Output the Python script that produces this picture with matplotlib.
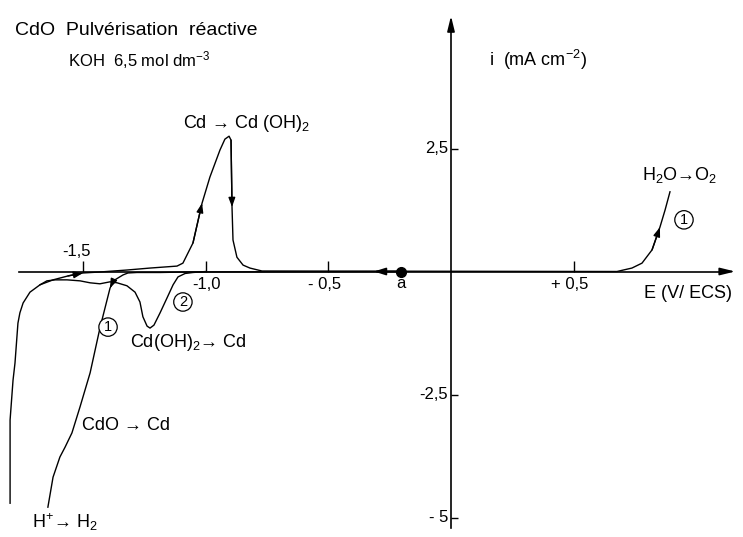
import matplotlib
matplotlib.use("Agg")
import matplotlib.pyplot as plt
import numpy as np

plt.rcParams['font.family'] = ['Liberation Sans', 'DejaVu Sans']
plt.rcParams['mathtext.fontset'] = 'custom'
plt.rcParams['mathtext.rm'] = 'Liberation Sans'
plt.rcParams['mathtext.default'] = 'regular'

# ---- data (E in V/ECS, i in mA cm-2) ----
# first cathodic sweep (1) from rest potential a : CdO -> Cd then H2
E_sweep1 = [-0.204, -1.075, -1.185, -1.279, -1.316, -1.336, -1.356, -1.369, -1.381, -1.389,
            -1.430, -1.470, -1.511, -1.544, -1.572, -1.593, -1.621, -1.642]
i_sweep1 = [0.0, -0.01, -0.02, -0.02, -0.03, -0.07, -0.13, -0.17, -0.25, -0.34,
            -1.15, -2.06, -2.75, -3.28, -3.57, -3.77, -4.18, -4.79]

# anodic sweep : Cd -> Cd(OH)2 peak, then O2 evolution
E_anodic = [-1.796, -1.796, -1.784, -1.776, -1.764, -1.756, -1.743, -1.715, -1.674, -1.621,
            -1.560, -1.499, -1.430, -1.320, -1.226, -1.116, -1.092, -1.051, -1.014, -0.982,
            -0.941, -0.921, -0.904, -0.896, -0.892, -0.888, -0.872, -0.847, -0.819, -0.770,
            0.676, 0.737, 0.778, 0.819, 0.851, 0.872, 0.892]
i_anodic = [-4.71, -3.02, -2.21, -1.86, -1.05, -0.84, -0.64, -0.42, -0.27, -0.17,
            -0.09, -0.03, -0.01, 0.03, 0.07, 0.11, 0.17, 0.58, 1.39, 1.92,
            2.47, 2.69, 2.75, 2.67, 1.31, 0.64, 0.29, 0.13, 0.07, 0.01,
            0.0, 0.07, 0.17, 0.44, 0.90, 1.25, 1.62]

# second cathodic sweep (2) : Cd(OH)2 -> Cd
E_sweep2 = [-0.998, -1.051, -1.083, -1.112, -1.132, -1.157, -1.185, -1.210, -1.226, -1.238,
            -1.255, -1.267, -1.287, -1.320, -1.360, -1.389, -1.430, -1.470, -1.511, -1.564,
            -1.613, -1.646, -1.674]
i_sweep2 = [0.0, -0.02, -0.04, -0.11, -0.27, -0.54, -0.84, -1.09, -1.15, -1.11,
            -0.92, -0.62, -0.42, -0.29, -0.23, -0.21, -0.25, -0.23, -0.19, -0.17,
            -0.17, -0.19, -0.27]

E_rest = -0.204  # point a

x_ticks = [-1.5, -1.0, -0.5, 0.5]
x_labels = ["-1,5", "-1,0", "- 0,5", "+ 0,5"]
y_ticks = [2.5, -2.5, -5.0]
y_labels = ["2,5", "-2,5", "- 5"]

# ---- figure ----
W, H = 743, 537
fig = plt.figure(figsize=(W / 100, H / 100), dpi=100)
ax = fig.add_axes([0, 0, 1, 1])
ax.set_xlim(-451 / 245.5, (W - 451) / 245.5)
ax.set_ylim(-(H - 271.5) / 49.2, 271.5 / 49.2)

for s in ['top', 'right']:
    ax.spines[s].set_visible(False)
ax.spines['left'].set_position(('data', 0))
ax.spines['bottom'].set_position(('data', 0))
ax.spines['left'].set_bounds(-5.21, 5.0)
ax.spines['bottom'].set_bounds(-1.76, 1.12)
for s in ['left', 'bottom']:
    ax.spines[s].set_linewidth(1.2)

ax.set_xticks(x_ticks)
ax.set_yticks(y_ticks)
ax.tick_params(axis='x', direction='in', length=8, width=1.0, labelbottom=False)
ax.tick_params(axis='y', direction='in', length=5, width=1.0, labelleft=False)

# axis arrow heads
ax.annotate('', xy=(1.169, 0), xytext=(1.10, 0),
            arrowprops=dict(arrowstyle='-|>,head_length=0.9,head_width=0.22', color='black', lw=1.2))
ax.annotate('', xy=(0, 5.25), xytext=(0, 4.9),
            arrowprops=dict(arrowstyle='-|>,head_length=0.9,head_width=0.22', color='black', lw=1.2))

# tick labels
tick_fs = 12
xoffs = [(-6, 20), (1, -13), (-4, -13), (-4, -13)]
for v, lab, off in zip(x_ticks, x_labels, xoffs):
    ax.annotate(lab, xy=(v, 0), xytext=off, textcoords='offset pixels',
                ha='center', va='center', fontsize=tick_fs)
for v, lab in zip(y_ticks, y_labels):
    ax.annotate(lab, xy=(0, v), xytext=(-3, 0), textcoords='offset pixels',
                ha='right', va='center', fontsize=tick_fs)

lw = 1.0
ax.plot(E_sweep1, i_sweep1, color='black', lw=lw)
ax.plot(E_anodic, i_anodic, color='black', lw=lw)
ax.plot(E_sweep2, i_sweep2, color='black', lw=lw)

def arrow_on(E, I, k):
    ax.annotate('', xy=(E[k + 1], I[k + 1]), xytext=(E[k], I[k]),
                arrowprops=dict(arrowstyle='-|>,head_length=0.55,head_width=0.2',
                                color='black', lw=lw, shrinkA=0, shrinkB=0))

arrow_on(E_sweep1, i_sweep1, 8)
arrow_on(E_anodic, i_anodic, 10)
arrow_on(E_anodic, i_anodic, 17)
arrow_on(E_anodic, i_anodic, 23)
arrow_on(E_anodic, i_anodic, 33)

# rest potential a and sweep direction arrow
ax.plot([E_rest], [0], 'o', color='black', ms=7)
ax.annotate('', xy=(E_rest - 0.11, 0), xytext=(E_rest, 0),
            arrowprops=dict(arrowstyle='-|>,head_length=0.7,head_width=0.22',
                            color='black', lw=1.2, shrinkA=0, shrinkB=0))
ax.annotate('a', xy=(E_rest, 0), xytext=(0, -12), textcoords='offset pixels',
            ha='center', va='center', fontsize=12)

fs = 13
ax.text(15 / 245.5 - 451 / 245.5, 5.518 - 30 / 49.2, "CdO  Pulvérisation  réactive",
        ha='left', va='center', fontsize=14)
ax.text(68 / 245.5 - 451 / 245.5, 5.518 - 60 / 49.2, "KOH  6,5 mol dm$^{-3}$",
        ha='left', va='center', fontsize=12)
ax.text(0.155, 4.3, "i  (mA cm$^{-2}$)", ha='left', va='center', fontsize=fs)
ax.text(0.785, -0.45, "E (V/ ECS)", ha='left', va='center', fontsize=fs)

ax.text(-0.832, 3.0, "Cd → Cd (OH)$_2$", ha='center', va='center', fontsize=fs)
ax.text(-1.307, -1.45, "Cd(OH)$_2$→ Cd", ha='left', va='center', fontsize=fs)
ax.text(-1.503, -3.14, "CdO → Cd", ha='left', va='center', fontsize=fs)
ax.text(-1.708, -5.09, "H$^{+}$→ H$_2$", ha='left', va='center', fontsize=fs)
ax.text(0.78, 1.96, "H$_2$O→O$_2$", ha='left', va='center', fontsize=fs)

circ = dict(boxstyle='circle,pad=0.15', fc='white', ec='black', lw=0.9)
ax.text(0.949, 1.05, "1", ha='center', va='center', fontsize=10.5, bbox=circ)
ax.text(-1.397, -1.13, "1", ha='center', va='center', fontsize=10.5, bbox=circ)
ax.text(-1.092, -0.62, "2", ha='center', va='center', fontsize=10.5, bbox=circ)

fig.savefig("out.png", dpi=100)
